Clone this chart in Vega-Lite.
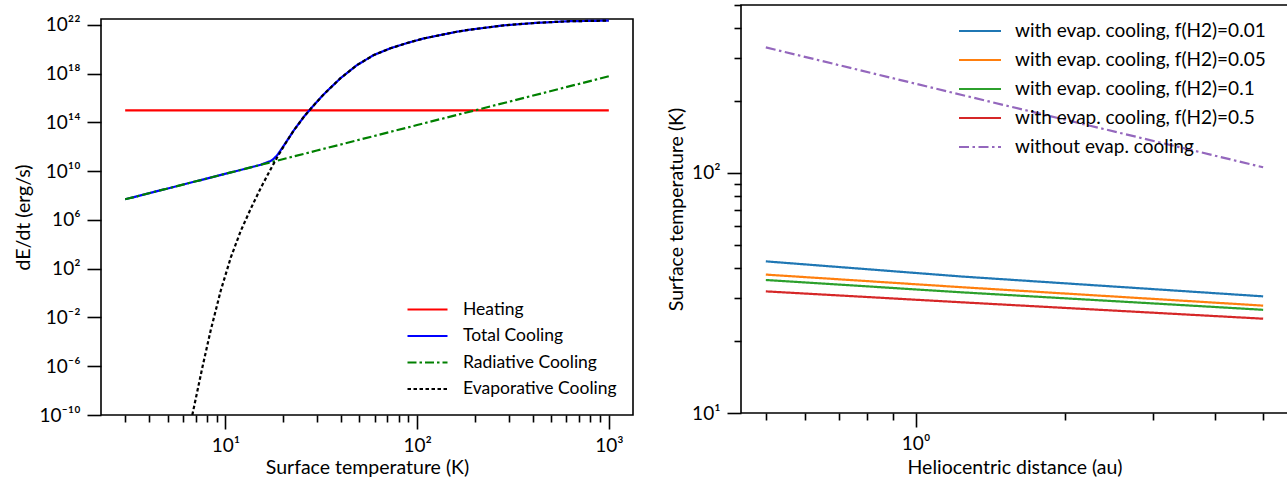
{
  "$schema": "https://vega.github.io/schema/vega-lite/v6.json",
  "padding": {"left": 13, "top": 3, "right": 0, "bottom": 0},
  "spacing": 31,
  "config": {
    "font": "Lato",
    "view": {"stroke": "black", "strokeWidth": 1.6},
    "axis": {
      "grid": false, "domain": false,
      "tickColor": "black", "tickWidth": 1.6,
      "labelColor": "black", "titleColor": "black",
      "labelFont": "Lato", "titleFont": "Lato",
      "labelFontSize": 19, "titleFontSize": 19.5, "titleFontWeight": "normal",
      "labelOverlap": false, "labelFlush": false, "labelPadding": 7, "titlePadding": 5
    },
    "legend": {"labelFont": "Lato", "labelColor": "black", "labelLimit": 0}
  },
  "datasets": {
    "left": [
      {"s": "Heating", "T": 3, "E": 1e15},
      {"s": "Heating", "T": 1000, "E": 1e15},
      {"s": "Radiative Cooling", "T": 3, "E": 5.0e7},
      {"s": "Radiative Cooling", "T": 5, "E": 3.85e8},
      {"s": "Radiative Cooling", "T": 10, "E": 6.17e9},
      {"s": "Radiative Cooling", "T": 18, "E": 6.47e10},
      {"s": "Radiative Cooling", "T": 30, "E": 4.99e11},
      {"s": "Radiative Cooling", "T": 100, "E": 6.17e13},
      {"s": "Radiative Cooling", "T": 300, "E": 4.99e15},
      {"s": "Radiative Cooling", "T": 1000, "E": 6.17e17},
      {"s": "Total Cooling", "T": 3, "E": 5.0e7},
      {"s": "Total Cooling", "T": 5, "E": 3.85e8},
      {"s": "Total Cooling", "T": 10, "E": 6.17e9},
      {"s": "Total Cooling", "T": 13.55, "E": 2.07e10},
      {"s": "Total Cooling", "T": 15.27, "E": 3.40e10},
      {"s": "Total Cooling", "T": 17.22, "E": 6.90e10},
      {"s": "Total Cooling", "T": 17.9, "E": 1.07e11},
      {"s": "Total Cooling", "T": 18.66, "E": 2.12e11},
      {"s": "Total Cooling", "T": 20.22, "E": 1.35e12},
      {"s": "Total Cooling", "T": 22.8, "E": 2.40e13},
      {"s": "Total Cooling", "T": 25.7, "E": 3.02e14},
      {"s": "Total Cooling", "T": 28.39, "E": 1.91e15},
      {"s": "Total Cooling", "T": 32.67, "E": 2.14e16},
      {"s": "Total Cooling", "T": 39.86, "E": 4.37e17},
      {"s": "Total Cooling", "T": 48.7, "E": 5.25e18},
      {"s": "Total Cooling", "T": 59.5, "E": 3.47e19},
      {"s": "Total Cooling", "T": 72.6, "E": 1.23e20},
      {"s": "Total Cooling", "T": 88.7, "E": 3.31e20},
      {"s": "Total Cooling", "T": 108.4, "E": 7.94e20},
      {"s": "Total Cooling", "T": 161.6, "E": 2.82e21},
      {"s": "Total Cooling", "T": 189.5, "E": 4.17e21},
      {"s": "Total Cooling", "T": 282.9, "E": 9.33e21},
      {"s": "Total Cooling", "T": 421.7, "E": 1.51e22},
      {"s": "Total Cooling", "T": 628.6, "E": 2.04e22},
      {"s": "Total Cooling", "T": 1000, "E": 2.29e22},
      {"s": "Evaporative Cooling", "T": 6.72, "E": 1e-10},
      {"s": "Evaporative Cooling", "T": 7.59, "E": 8.71e-7},
      {"s": "Evaporative Cooling", "T": 8.38, "E": 8.91e-4},
      {"s": "Evaporative Cooling", "T": 9.45, "E": 1.55},
      {"s": "Evaporative Cooling", "T": 10.66, "E": 813},
      {"s": "Evaporative Cooling", "T": 12.02, "E": 1.26e5},
      {"s": "Evaporative Cooling", "T": 13.55, "E": 8.32e6},
      {"s": "Evaporative Cooling", "T": 15.27, "E": 4.07e8},
      {"s": "Evaporative Cooling", "T": 17.22, "E": 1.48e10},
      {"s": "Evaporative Cooling", "T": 18.66, "E": 1.45e11},
      {"s": "Evaporative Cooling", "T": 20.22, "E": 1.26e12},
      {"s": "Evaporative Cooling", "T": 22.8, "E": 2.40e13},
      {"s": "Evaporative Cooling", "T": 25.7, "E": 3.02e14},
      {"s": "Evaporative Cooling", "T": 28.39, "E": 1.91e15},
      {"s": "Evaporative Cooling", "T": 32.67, "E": 2.14e16},
      {"s": "Evaporative Cooling", "T": 39.86, "E": 4.37e17},
      {"s": "Evaporative Cooling", "T": 48.7, "E": 5.25e18},
      {"s": "Evaporative Cooling", "T": 59.5, "E": 3.47e19},
      {"s": "Evaporative Cooling", "T": 72.6, "E": 1.23e20},
      {"s": "Evaporative Cooling", "T": 88.7, "E": 3.31e20},
      {"s": "Evaporative Cooling", "T": 108.4, "E": 7.94e20},
      {"s": "Evaporative Cooling", "T": 161.6, "E": 2.82e21},
      {"s": "Evaporative Cooling", "T": 189.5, "E": 4.17e21},
      {"s": "Evaporative Cooling", "T": 282.9, "E": 9.33e21},
      {"s": "Evaporative Cooling", "T": 421.7, "E": 1.51e22},
      {"s": "Evaporative Cooling", "T": 628.6, "E": 2.04e22},
      {"s": "Evaporative Cooling", "T": 1000, "E": 2.29e22}
    ],
    "right": [
      {"s": "with evap. cooling, f(H2)=0.01", "r": 0.5, "T": 42.8},
      {"s": "with evap. cooling, f(H2)=0.01", "r": 1.24, "T": 37.0},
      {"s": "with evap. cooling, f(H2)=0.01", "r": 5, "T": 30.6},
      {"s": "with evap. cooling, f(H2)=0.05", "r": 0.5, "T": 37.7},
      {"s": "with evap. cooling, f(H2)=0.05", "r": 1.24, "T": 33.4},
      {"s": "with evap. cooling, f(H2)=0.05", "r": 5, "T": 28.0},
      {"s": "with evap. cooling, f(H2)=0.1", "r": 0.5, "T": 35.8},
      {"s": "with evap. cooling, f(H2)=0.1", "r": 1.24, "T": 31.8},
      {"s": "with evap. cooling, f(H2)=0.1", "r": 5, "T": 26.9},
      {"s": "with evap. cooling, f(H2)=0.5", "r": 0.5, "T": 32.1},
      {"s": "with evap. cooling, f(H2)=0.5", "r": 1.24, "T": 28.9},
      {"s": "with evap. cooling, f(H2)=0.5", "r": 5, "T": 24.7},
      {"s": "without evap. cooling", "r": 0.5, "T": 333},
      {"s": "without evap. cooling", "r": 1.24, "T": 211},
      {"s": "without evap. cooling", "r": 5, "T": 105.5}
    ]
  },
  "hconcat": [
    {
      "vconcat": [
        {
          "width": 532,
          "height": 10,
          "data": {"values": [{"a": 1}]},
          "mark": {"type": "point", "opacity": 0, "size": 1},
          "view": {"stroke": null}
        },
        {
          "width": 532,
          "height": 396,
          "data": {"name": "left"},
          "encoding": {
            "x": {
              "field": "T", "type": "quantitative",
              "scale": {"type": "log", "domain": [2.244, 1337], "nice": false, "zero": false},
              "axis": {
                "title": "Surface temperature (K)",
                "values": [3,4,5,6,7,8,9,10,20,30,40,50,60,70,80,90,100,200,300,400,500,600,700,800,900,1000],
                "tickSize": {"condition": {"test": "indexof([10,100,1000], datum.value) >= 0", "value": 14}, "value": 7},
                "labelExpr": "indexof([10,100,1000], datum.value) >= 0 ? '10' + replace(replace(replace(replace(replace(replace(replace(replace(replace(replace(replace(toString(round(log(datum.value)/LN10)), regexp('-','g'), '⁻'), regexp('0','g'), '⁰'), regexp('1','g'), '¹'), regexp('2','g'), '²'), regexp('3','g'), '³'), regexp('4','g'), '⁴'), regexp('5','g'), '⁵'), regexp('6','g'), '⁶'), regexp('7','g'), '⁷'), regexp('8','g'), '⁸'), regexp('9','g'), '⁹') : ''",
                "titlePadding": 3
              }
            },
            "y": {
              "field": "E", "type": "quantitative",
              "scale": {"type": "log", "domain": [1e-10, 3.1e22], "nice": false, "zero": false},
              "axis": {
                "title": "dE/dt (erg/s)",
                "values": [1e-10, 1e-6, 1e-2, 1e2, 1e6, 1e10, 1e14, 1e18, 1e22],
                "tickSize": 14,
                "labelExpr": "'10' + replace(replace(replace(replace(replace(replace(replace(replace(replace(replace(replace(toString(round(log(datum.value)/LN10)), regexp('-','g'), '⁻'), regexp('0','g'), '⁰'), regexp('1','g'), '¹'), regexp('2','g'), '²'), regexp('3','g'), '³'), regexp('4','g'), '⁴'), regexp('5','g'), '⁵'), regexp('6','g'), '⁶'), regexp('7','g'), '⁷'), regexp('8','g'), '⁸'), regexp('9','g'), '⁹')"
              }
            },
            "color": {
              "field": "s", "type": "nominal",
              "scale": {"domain": ["Heating", "Total Cooling", "Radiative Cooling", "Evaporative Cooling"], "range": ["#ff0000", "#0000ff", "#008000", "#000000"]},
              "legend": {"title": null, "orient": "none", "legendX": 315, "legendY": 293, "symbolType": "M-2,0H2", "symbolSize": 400, "symbolStrokeWidth": 2.2, "labelFontSize": 17.5, "labelOffset": 24, "rowPadding": 6.5, "padding": 0}
            },
            "strokeDash": {
              "field": "s", "type": "nominal",
              "scale": {"domain": ["Heating", "Total Cooling", "Radiative Cooling", "Evaporative Cooling"], "range": [[1, 0], [1, 0], [9, 3, 2.5, 3], [3.5, 2.5]]},
              "legend": {"title": null, "orient": "none", "legendX": 315, "legendY": 293, "symbolType": "M-2,0H2", "symbolSize": 400, "symbolStrokeWidth": 2.2, "labelFontSize": 17.5, "labelOffset": 24, "rowPadding": 6.5, "padding": 0}
            }
          },
          "layer": [
            {"transform": [{"filter": "datum.s == 'Heating'"}], "mark": {"type": "line", "strokeWidth": 2.2, "clip": true}},
            {"transform": [{"filter": "datum.s == 'Total Cooling'"}], "mark": {"type": "line", "strokeWidth": 2.2, "clip": true}},
            {"transform": [{"filter": "datum.s == 'Radiative Cooling'"}], "mark": {"type": "line", "strokeWidth": 2.2, "clip": true}},
            {"transform": [{"filter": "datum.s == 'Evaporative Cooling'"}], "mark": {"type": "line", "strokeWidth": 2.2, "clip": true}}
          ]
        }
      ],
      "spacing": 0
    },
    {
      "width": 547,
      "height": 408,
      "data": {"name": "right"},
      "mark": {"type": "line", "strokeWidth": 2.2, "clip": true},
      "encoding": {
        "x": {
          "field": "r", "type": "quantitative",
          "scale": {"type": "log", "domain": [0.4457, 5.61], "nice": false, "zero": false},
          "axis": {
            "title": "Heliocentric distance (au)",
            "values": [0.5, 0.6, 0.7, 0.8, 0.9, 1, 2, 3, 4, 5],
            "tickSize": {"condition": {"test": "datum.value == 1", "value": 14}, "value": 7},
            "labelExpr": "datum.value == 1 ? '10⁰' : ''",
            "titlePadding": 5
          }
        },
        "y": {
          "field": "T", "type": "quantitative",
          "scale": {"type": "log", "domain": [10, 500], "nice": false, "zero": false},
          "axis": {
            "title": "Surface temperature (K)",
            "values": [10, 20, 30, 40, 50, 60, 70, 80, 90, 100, 200, 300, 400, 500],
            "tickSize": {"condition": {"test": "datum.value == 10 || datum.value == 100", "value": 14}, "value": 7},
            "labelFontSize": {"condition": {"test": "datum.value == 10 || datum.value == 100", "value": 19}, "value": 0},
            "labelExpr": "datum.value == 10 ? '10¹' : datum.value == 100 ? '10²' : ''"
          }
        },
        "color": {
          "field": "s", "type": "nominal",
          "scale": {"domain": ["with evap. cooling, f(H2)=0.01", "with evap. cooling, f(H2)=0.05", "with evap. cooling, f(H2)=0.1", "with evap. cooling, f(H2)=0.5", "without evap. cooling"], "range": ["#1f77b4", "#ff7f0e", "#2ca02c", "#d62728", "#9467bd"]},
          "legend": {"title": null, "orient": "none", "legendX": 227, "legendY": 14, "symbolType": "M-2,0H2", "symbolSize": 441, "symbolStrokeWidth": 2.2, "labelFontSize": 19, "labelOffset": 23, "rowPadding": 7, "padding": 0}
        },
        "strokeDash": {
          "field": "s", "type": "nominal",
          "scale": {"domain": ["with evap. cooling, f(H2)=0.01", "with evap. cooling, f(H2)=0.05", "with evap. cooling, f(H2)=0.1", "with evap. cooling, f(H2)=0.5", "without evap. cooling"], "range": [[1, 0], [1, 0], [1, 0], [1, 0], [10, 3.5, 2.5, 3.5]]},
          "legend": {"title": null, "orient": "none", "legendX": 227, "legendY": 14, "symbolType": "M-2,0H2", "symbolSize": 441, "symbolStrokeWidth": 2.2, "labelFontSize": 19, "labelOffset": 23, "rowPadding": 7, "padding": 0}
        }
      }
    }
  ],
  "resolve": {"scale": {"color": "independent", "strokeDash": "independent", "x": "independent", "y": "independent"}, "legend": {"color": "independent", "strokeDash": "independent"}}
}
